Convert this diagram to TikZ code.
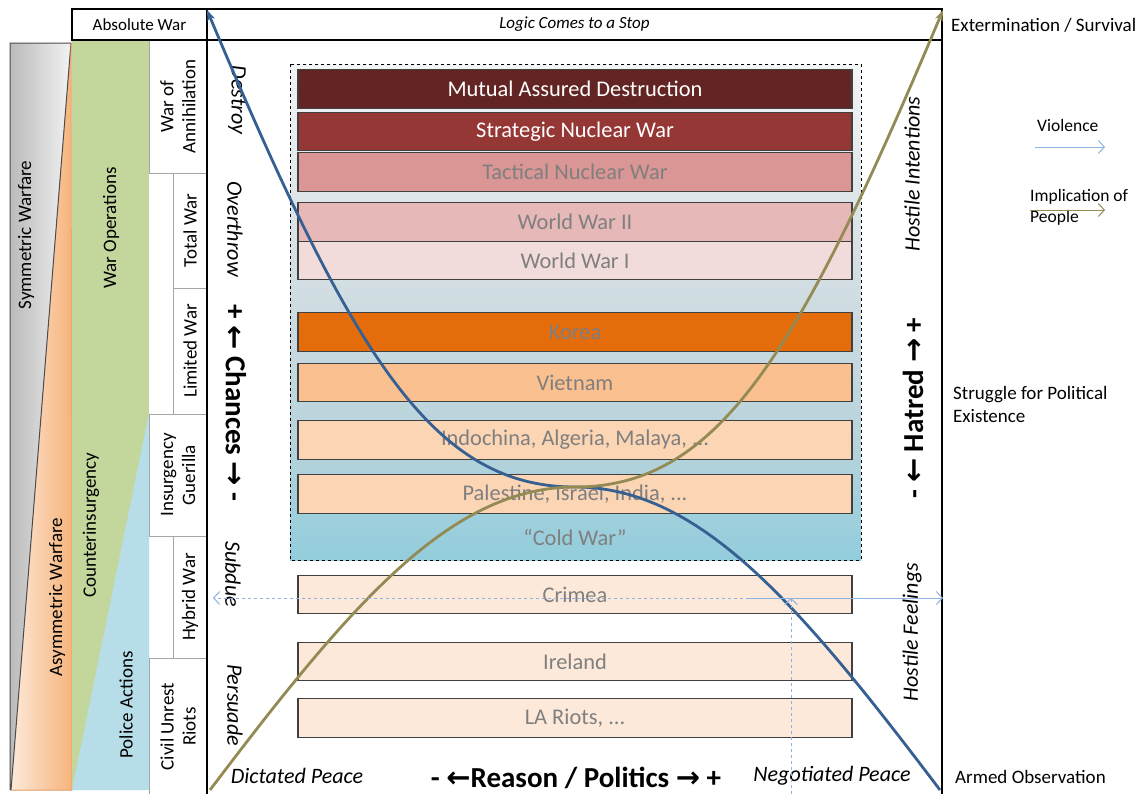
\documentclass[tikz,border=0pt]{standalone}
\usepackage{fontspec}
\setmainfont{Carlito}
\newfontfamily\arrowfont{DejaVu Sans}
\usetikzlibrary{arrows.meta}
\definecolor{madred}{RGB}{99,37,35}
\definecolor{snwred}{RGB}{149,55,53}
\definecolor{tnwred}{RGB}{217,150,148}
\definecolor{wwtwo}{RGB}{230,185,184}
\definecolor{wwone}{RGB}{242,220,219}
\definecolor{koreaorange}{RGB}{228,108,10}
\definecolor{vietorange}{RGB}{250,192,144}
\definecolor{peach}{RGB}{252,213,181}
\definecolor{lightpeach}{RGB}{253,233,217}
\definecolor{bargray}{RGB}{127,127,127}
\definecolor{bardraw}{RGB}{64,64,64}
\definecolor{violenceblue}{RGB}{55,96,146}
\definecolor{peopleolive}{RGB}{148,138,84}
\definecolor{arrowblue}{RGB}{141,179,226}
\definecolor{opsgreen}{RGB}{195,214,155}
\definecolor{policeblue}{RGB}{183,222,232}
\definecolor{cellgray}{RGB}{166,166,166}
\definecolor{coldtop}{RGB}{242,244,245}
\definecolor{coldmid}{RGB}{213,223,227}
\definecolor{coldlow}{RGB}{184,211,219}
\definecolor{coldbot}{RGB}{146,205,220}
\pgfdeclareverticalshading{coldwar}{100bp}{color(0bp)=(coldbot); color(25bp)=(coldbot); color(37bp)=(coldlow); color(55bp)=(coldmid); color(75bp)=(coldtop); color(100bp)=(coldtop)}
\newcommand{\arr}[1]{{\arrowfont\bfseries #1}}

\begin{document}
\begin{tikzpicture}[x=1pt, y=-1pt,
    bar/.style={draw=bardraw, line width=1.2pt, minimum width=554pt, minimum height=38.5pt, inner sep=0pt, text=bargray, font=\fontsize{22.4}{26}\selectfont},
    cell/.style={draw=cellgray, line width=1pt, inner sep=0pt, align=center, font=\fontsize{19}{22}\selectfont},
    sidelabel/.style={inner sep=0pt, font=\fontsize{22}{26}\selectfont\itshape},
    biglabel/.style={inner sep=0pt, font=\fontsize{29}{34}\selectfont\bfseries},
    outlabel/.style={inner sep=0pt, anchor=west, align=left, font=\fontsize{19}{23}\selectfont},
    legendlabel/.style={inner sep=0pt, anchor=west, align=left, font=\fontsize{17.5}{21}\selectfont},
    violence/.style={violenceblue, line width=2.8pt},
    people/.style={peopleolive, line width=2.8pt},
    thinarrow/.style={line width=1pt, -{Straight Barb[length=6pt,width=13pt]}}]
\useasboundingbox (0,0) rectangle (1142,793);
\fill[white] (0,0) rectangle (1142,793);

% Symmetric / asymmetric warfare
\fill[left color=black!27, right color=black!5] (10,43) -- (71,43) -- (11,790) -- (10,790) -- cycle;
\fill[left color=lightpeach, right color=vietorange!85!koreaorange] (71,43) -- (72,790) -- (11,790) -- cycle;
\draw[black!70, line width=1pt] (10,790) -- (10,43) -- (71,43) -- (11,790);
\draw[koreaorange!60, line width=1pt] (71,43) -- (72,790) -- (11,790);
\node[rotate=90, font=\fontsize{19}{22}\selectfont] (sym) at (26,235) {Symmetric Warfare};
\node[rotate=90, font=\fontsize{19}{22}\selectfont] (asym) at (57,597) {Asymmetric Warfare};

% War operations / police actions
\fill[opsgreen] (72,40) rectangle (149,790);
\fill[policeblue] (149,413) -- (149,790) -- (72,790) -- cycle;
\node[rotate=90, font=\fontsize{19}{22}\selectfont] (warops) at (111,228) {War Operations};
\node[rotate=90, font=\fontsize{19}{22}\selectfont] (counter) at (91,525) {Counterinsurgency};
\node[rotate=90, font=\fontsize{19}{22}\selectfont] (police) at (126,705) {Police Actions};

% Kinds of war
\node[cell, rotate=90, minimum width=133pt, minimum height=58pt] (annih) at (178,106.5) {War of\\Annihilation};
\node[cell, rotate=90, minimum width=115pt, minimum height=34pt] (total) at (190,230.5) {Total War};
\node[cell, rotate=90, minimum width=126pt, minimum height=34pt] (limited) at (190,351) {Limited War};
\node[cell, rotate=90, minimum width=122pt, minimum height=58pt] (insurg) at (178,475) {Insurgency\\Guerilla};
\node[cell, rotate=90, minimum width=122pt, minimum height=34pt] (hybrid) at (190,597) {Hybrid War};
\node[cell, rotate=90, minimum width=137pt, minimum height=58pt] (civil) at (178,726.5) {Civil Unrest\\Riots};

% Header and frame
\node[draw, line width=1.2pt, minimum width=135pt, minimum height=31pt, font=\fontsize{17}{20}\selectfont] (abswar) at (139.5,24.5) {Absolute War};
\node[draw, line width=1.2pt, minimum width=735pt, minimum height=31pt, font=\fontsize{17}{20}\selectfont\itshape] (logic) at (574.5,24.5) {Logic Comes to a Stop};
\draw[line width=1.2pt] (207,40) -- (207,800);
\draw[line width=1.2pt] (942,40) -- (942,800);

% Cold war area
\path[shading=coldwar] (290,64) rectangle (861,560);
\draw[dashed, line width=0.9pt] (290,64) rectangle (861,560);
\node[text=bargray, font=\fontsize{22.4}{26}\selectfont] (cold) at (575,537) {“Cold War”};

% Conflicts
\node[bar, fill=madred, text=white] (mad) at (575,89) {Mutual Assured Destruction};
\node[bar, fill=snwred, text=white] (snw) at (575,131.5) {Strategic Nuclear War};
\node[bar, fill=tnwred] (tnw) at (575,172) {Tactical Nuclear War};
\node[bar, fill=wwtwo] (ww2) at (575,222) {World War II};
\node[bar, fill=wwone] (ww1) at (575,260.5) {World War I};
\node[bar, fill=koreaorange] (korea) at (575,332) {Korea};
\node[bar, fill=vietorange] (vietnam) at (575,382.5) {Vietnam};
\node[bar, fill=peach] (indo) at (575,440) {Indochina, Algeria, Malaya, ...};
\node[bar, fill=peach] (pal) at (575,494) {Palestine, Israel, India, ...};
\node[bar, fill=lightpeach] (crimea) at (575,594.5) {Crimea};
\node[bar, fill=lightpeach] (ireland) at (575,661.5) {Ireland};
\node[bar, fill=lightpeach] (lariots) at (575,718) {LA Riots, ...};

% Labels inside the frame
\node[sidelabel, rotate=-90] (destroy) at (237,100) {Destroy};
\node[sidelabel, rotate=-90] (overthrow) at (235,229) {Overthrow};
\node[biglabel, rotate=-90] (chances) at (236,403) {+ \arr{←} Chances \arr{→} -};
\node[sidelabel, rotate=-90] (subdue) at (233,574) {Subdue};
\node[sidelabel, rotate=-90] (persuade) at (235,705) {Persuade};
\node[sidelabel, rotate=90] (intent) at (912,174) {Hostile Intentions};
\node[biglabel, rotate=90] (hatred) at (913,408) {- \arr{←} Hatred \arr{→} +};
\node[sidelabel, rotate=90] (feelings) at (912,632) {Hostile Feelings};
\node[sidelabel] (dictated) at (297,776) {Dictated Peace};
\node[biglabel, anchor=base] (reason) at (576,787) {- \arr{←}Reason / Politics \arr{→} +};
\node[sidelabel] (negotiated) at (832,776) {Negotiated Peace};

% Labels outside the frame
\node[outlabel] (extermination) at (951,25) {Extermination / Survival};
\node[legendlabel] (violencelbl) at (1037,125) {Violence};
\node[legendlabel] (peoplelbl) at (1030,207) {Implication of\\People};
\node[outlabel] (struggle) at (953,404) {Struggle for Political\\Existence};
\node[outlabel] (armed) at (955,777) {Armed Observation};

% Curves
\coordinate (vtop) at (207,10);
\coordinate (cross) at (575,487);
\coordinate (vbot) at (940,790);
\coordinate (ptop) at (943,10);
\coordinate (pbot) at (210,790);
\draw[violence, {Stealth[length=11pt,width=8pt]}-] (vtop) .. controls (350,350) and (430,487) .. (cross) .. controls (700,487) and (800,605) .. (vbot);
\draw[people, {Stealth[length=11pt,width=8pt]}-] (ptop) .. controls (800,350) and (720,487) .. (cross) .. controls (450,487) and (350,605) .. (pbot);

% Crimea level
\coordinate (hit) at (791,598);
\coordinate (hitleft) at (213,598);
\coordinate (hitstart) at (747,598);
\coordinate (hitright) at (943,598);
\coordinate (hitbase) at (791,800);
\draw[thinarrow, arrowblue, dashed] (hit) -- (hitleft);
\draw[thinarrow, arrowblue] (hitstart) -- (hitright);
\draw[thinarrow, arrowblue, dashed] (hitbase) -- (hit);

% Legend
\coordinate (vleg1) at (1035,147);
\coordinate (vleg2) at (1105,147);
\coordinate (pleg1) at (1030,210);
\coordinate (pleg2) at (1105,210);
\draw[thinarrow, arrowblue] (vleg1) -- (vleg2);
\draw[thinarrow, peopleolive] (pleg1) -- (pleg2);
\end{tikzpicture}
\end{document}
